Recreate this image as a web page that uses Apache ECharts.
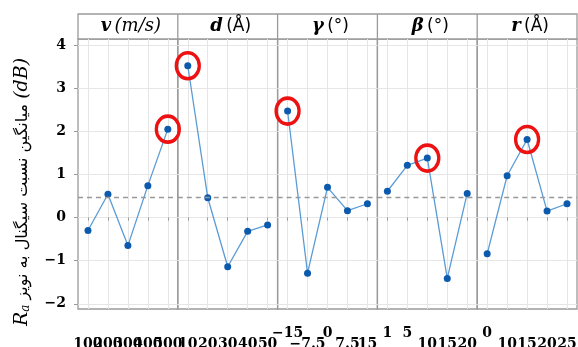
<!DOCTYPE html>
<html>
<head>
<meta charset="utf-8">
<script src="https://cdn.jsdelivr.net/npm/echarts@6/dist/echarts.min.js"></script>
<style>
    html, body { margin: 0; padding: 0; background: #fff; }
    #chart { width: 578px; height: 347px; }
</style>
</head>
<body>
<div id="chart"></div>
<script>
// parametres et unites (bandeau du haut)
const panelNames = ["v", "d", "γ", "β", "r"];
const panelUnits = ["(m/s)", "(Å)", "(°)", "(°)", "(Å)"];

// niveaux de chaque parametre (etiquettes de l'axe x)
const vLevels = ["100", "200", "300", "400", "500"];
const dLevels = ["10", "20", "30", "40", "50"];
const gammaLevels = ["−15", "−7.5", "0", "7.5", "15"];
const betaLevels = ["1", "5", "10", "15", "20"];
const rLevels = ["0", "10", "15", "20", "25"];

// moyenne du rapport S/N par niveau (dB)
const vMeans = [-0.30, 0.54, -0.65, 0.74, 2.05];
const dMeans = [3.52, 0.46, -1.14, -0.32, -0.17];
const gammaMeans = [2.47, -1.29, 0.70, 0.16, 0.32];
const betaMeans = [0.61, 1.21, 1.38, -1.41, 0.56];
const rMeans = [-0.84, 0.97, 1.81, 0.15, 0.32];

// graduations de l'axe y
const yTicks = [-2, -1, 0, 1, 2, 3, 4];

const levels = [vLevels, dLevels, gammaLevels, betaLevels, rLevels];
const means = [vMeans, dMeans, gammaMeans, betaMeans, rMeans];

document.addEventListener("DOMContentLoaded", () => {
    const chart = echarts.init(document.getElementById("chart"));

    // Layout
    const L = 78, R = 577, T = 39, B = 309, HEAD = 14;
    const pw = (R - L) / panelNames.length;

    const allValues = means.flat();
    const grandMean = allValues.reduce((a, b) => a + b, 0) / allValues.length;

    // etiquettes decalees vers le haut comme sur la figure
    const raisedTicks = ["−15", "0", "1", "5"];

    const fmtY = v => (v < 0 ? "−" + Math.abs(v) : String(v));
    const tickFont = { fontFamily: "DejaVu Serif", fontWeight: "bold", fontSize: 14, color: "#000" };

    const grids = levels.map((_, i) => ({
        left: L + i * pw,
        top: T,
        width: pw,
        height: B - T,
        show: true,
        borderColor: "#9a9a9a",
        borderWidth: 1.3,
        outerBoundsMode: "none",
        containLabel: false
    }));

    const xAxes = levels.map((cats, i) => ({
        type: "category",
        gridIndex: i,
        data: cats,
        boundaryGap: true,
        axisLine: { show: false },
        axisTick: { show: true, interval: 0, alignWithLabel: true, length: 3, lineStyle: { color: "#999" } },
        splitLine: { show: true, interval: 0, alignWithLabel: true, lineStyle: { color: "#e6e6e6", width: 1 } },
        axisLabel: {
            interval: 0,
            hideOverlap: false,
            margin: 17,
            formatter: v => raisedTicks.includes(v) ? `{u|${v}}` : `{n|${v}}`,
            rich: {
                u: Object.assign({}, tickFont),
                n: Object.assign({ padding: [11, 0, 0, 0] }, tickFont)
            }
        }
    }));

    const yAxes = levels.map((_, i) => ({
        type: "value",
        gridIndex: i,
        min: -2.12,
        max: 4.14,
        axisLine: { show: false },
        axisTick: { show: i === 0, length: 4, customValues: yTicks, lineStyle: { color: "#999" } },
        axisLabel: Object.assign({ show: i === 0, customValues: yTicks, margin: 12, formatter: fmtY }, tickFont),
        splitLine: { show: true, customValues: yTicks, lineStyle: { color: "#e6e6e6", width: 1 } },
        name: i === 0 ? "{r|R}{s|a}{p| میانگین نسبت سیگنال به نویز }{d|(dB)}" : "",
        nameLocation: "middle",
        nameGap: 46,
        nameTextStyle: {
            padding: [0, 36, 0, 0],
            rich: {
                r: { fontFamily: "DejaVu Serif", fontStyle: "italic", fontSize: 19, color: "#000" },
                s: { fontFamily: "DejaVu Serif", fontStyle: "italic", fontSize: 12, color: "#000", verticalAlign: "bottom" },
                p: { fontFamily: "DejaVu Sans", fontSize: 16, color: "#000" },
                d: { fontFamily: "DejaVu Serif", fontStyle: "italic", fontSize: 19, color: "#000" }
            }
        }
    }));

    const series = means.map((vals, i) => ({
        type: "line",
        xAxisIndex: i,
        yAxisIndex: i,
        data: vals,
        symbol: "circle",
        symbolSize: 7,
        itemStyle: { color: "#0b5aad" },
        lineStyle: { color: "#5b9bd5", width: 1.3 },
        markPoint: {
            data: [{ type: "max" }],
            symbol: "circle",
            symbolSize: [23, 26],
            itemStyle: { color: "rgba(0,0,0,0)", borderColor: "#ee1111", borderWidth: 3.5 },
            label: { show: false },
            silent: true
        },
        markLine: {
            data: [{ yAxis: grandMean }],
            symbol: ["none", "none"],
            lineStyle: { color: "#999", type: [5, 4], width: 1.3 },
            label: { show: false },
            silent: true
        },
        z: 3
    }));

    // Bandeau des titres
    const headerItems = [{
        type: "rect",
        shape: { x: L, y: HEAD, width: R - L, height: T - HEAD },
        style: { fill: "#fff", stroke: "#9a9a9a", lineWidth: 1.3 }
    }];
    panelNames.forEach((name, i) => {
        if (i > 0) {
            headerItems.push({
                type: "line",
                shape: { x1: L + i * pw, y1: HEAD, x2: L + i * pw, y2: T },
                style: { stroke: "#9a9a9a", lineWidth: 1.3 }
            });
        }
        const unitKey = panelUnits[i] === "(m/s)" ? "ui" : "u";
        headerItems.push({
            type: "text",
            x: L + (i + 0.5) * pw + 3,
            y: (HEAD + T) / 2,
            style: {
                text: `{b|${name}} {${unitKey}|${panelUnits[i]}}`,
                align: "center",
                verticalAlign: "middle",
                rich: {
                    b: { fontFamily: "DejaVu Serif", fontStyle: "italic", fontWeight: "bold", fontSize: 18, fill: "#000" },
                    ui: { fontFamily: "DejaVu Serif", fontStyle: "italic", fontSize: 18, fill: "#000" },
                    u: { fontFamily: "DejaVu Sans", fontSize: 17, fill: "#000" }
                }
            }
        });
    });

    chart.setOption({
        animation: false,
        backgroundColor: "#fff",
        grid: grids,
        xAxis: xAxes,
        yAxis: yAxes,
        series: series,
        graphic: headerItems
    });

    window.addEventListener("resize", () => chart.resize());
});
</script>
</body>
</html>
